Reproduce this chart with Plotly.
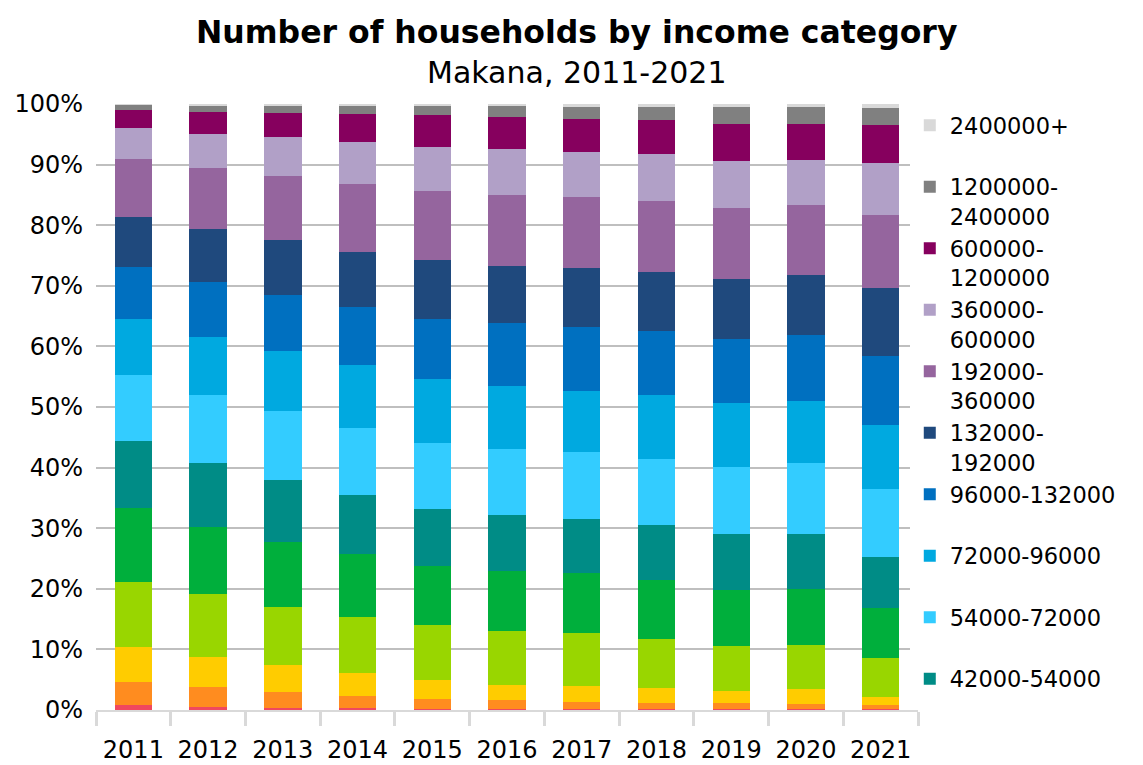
import plotly.graph_objects as go

years = ["2011", "2012", "2013", "2014", "2015", "2016", "2017", "2018", "2019", "2020", "2021"]

# income categories, bottom of the stack first
categories = [
    "0-2400", "2400-6000", "6000-12000", "12000-30000", "30000-42000",
    "42000-54000", "54000-72000", "72000-96000", "96000-132000",
    "132000-<br>192000", "192000-<br>360000", "360000-<br>600000",
    "600000-<br>1200000", "1200000-<br>2400000", "2400000+",
]

# share of households (%) per category
inc_0_2400 = [0.8, 0.5, 0.3, 0.4, 0.15, 0.1, 0.1, 0.1, 0.1, 0.1, 0.1]
inc_2400_6000 = [3.9, 3.3, 2.7, 1.9, 1.65, 1.5, 1.3, 1.1, 1.1, 0.9, 0.7]
inc_6000_12000 = [5.7, 5.0, 4.4, 3.8, 3.1, 2.6, 2.5, 2.4, 1.9, 2.4, 1.4]
inc_12000_30000 = [10.7, 10.3, 9.6, 9.3, 9.2, 8.9, 8.8, 8.1, 7.4, 7.3, 6.4]
inc_30000_42000 = [12.2, 11.1, 10.8, 10.3, 9.6, 9.9, 9.9, 9.7, 9.3, 9.2, 8.3]
inc_42000_54000 = [11.1, 10.5, 10.1, 9.8, 9.5, 9.1, 8.9, 9.2, 9.2, 9.1, 8.4]
inc_54000_72000 = [10.8, 11.3, 11.4, 11.1, 10.8, 11.0, 11.0, 10.8, 11.1, 11.7, 11.2]
inc_72000_96000 = [9.3, 9.6, 10.0, 10.3, 10.6, 10.4, 10.1, 10.5, 10.6, 10.3, 10.6]
inc_96000_132000 = [8.6, 9.1, 9.2, 9.6, 9.9, 10.3, 10.6, 10.6, 10.6, 10.9, 11.3]
inc_132000_192000 = [8.2, 8.7, 9.1, 9.1, 9.7, 9.5, 9.8, 9.8, 9.9, 9.9, 11.3]
inc_192000_360000 = [9.6, 10.0, 10.6, 11.2, 11.4, 11.7, 11.6, 11.7, 11.7, 11.5, 12.0]
inc_360000_600000 = [5.1, 5.7, 6.4, 6.9, 7.3, 7.5, 7.5, 7.7, 7.7, 7.5, 8.5]
inc_600000_1200000 = [3.0, 3.6, 3.9, 4.7, 5.3, 5.4, 5.5, 5.7, 6.1, 5.9, 6.4]
inc_1200000_2400000 = [0.9, 1.1, 1.3, 1.4, 1.5, 1.7, 1.9, 2.1, 2.8, 2.8, 2.7]
inc_2400000_plus = [0.1, 0.2, 0.2, 0.2, 0.3, 0.4, 0.5, 0.5, 0.5, 0.5, 0.7]

series = [
    inc_0_2400, inc_2400_6000, inc_6000_12000, inc_12000_30000, inc_30000_42000,
    inc_42000_54000, inc_54000_72000, inc_72000_96000, inc_96000_132000,
    inc_132000_192000, inc_192000_360000, inc_360000_600000,
    inc_600000_1200000, inc_1200000_2400000, inc_2400000_plus,
]

colors = [
    "#F0485E", "#FF8C1F", "#FFCC00", "#99D600", "#00AF3C",
    "#008C86", "#33CCFF", "#00A9E0", "#0070C0", "#1F497D",
    "#95659E", "#B1A0C7", "#86005E", "#808080", "#D9D9D9",
]

FONT = "DejaVu Sans"
FIRST_IN_LEGEND = 5

fig = go.Figure()
for i, (name, vals, col) in enumerate(zip(categories, series, colors)):
    # single-line labels get an empty second line so every legend slot is the same height
    label = name
    if "<br>" not in name and i > FIRST_IN_LEGEND:
        label = name + "<br> "
    fig.add_trace(
        go.Bar(
            x=years,
            y=vals,
            name=label,
            marker=dict(color=col, line=dict(width=0)),
            showlegend=i >= FIRST_IN_LEGEND,
        )
    )

# the page body adds an 8px offset, so margins are shifted by that amount
fig.update_layout(
    width=1143,
    height=765,
    barmode="stack",
    barnorm="percent",
    bargap=0.5,
    plot_bgcolor="white",
    paper_bgcolor="white",
    font=dict(family=FONT, size=24, color="black"),
    margin=dict(l=88, r=233, t=96, b=63, autoexpand=False),
    legend=dict(
        traceorder="reversed",
        x=0.99,
        xanchor="left",
        y=1.0,
        yanchor="top",
        valign="top",
        font=dict(size=22.5),
        tracegroupgap=0,
        itemwidth=30,
    ),
    annotations=[
        dict(
            text="<b>Number of households by income category</b>",
            xref="paper", yref="paper", x=0.585, y=1.1188,
            xanchor="center", yanchor="middle", showarrow=False,
            font=dict(size=31.5),
        ),
        dict(
            text="Makana, 2011-2021",
            xref="paper", yref="paper", x=0.585, y=1.0528,
            xanchor="center", yanchor="middle", showarrow=False,
            font=dict(size=30),
        ),
    ],
)

fig.update_yaxes(
    range=[0, 100],
    ticksuffix="%",
    dtick=10,
    showgrid=True,
    gridcolor="#BFBFBF",
    gridwidth=2,
    zeroline=False,
    showline=False,
    ticks="",
    ticklabelstandoff=12,
)
fig.update_xaxes(
    type="category",
    showline=True,
    linecolor="#D9D9D9",
    linewidth=2,
    ticks="outside",
    tickson="boundaries",
    ticklen=14,
    tickwidth=3,
    tickcolor="#D9D9D9",
    ticklabelstandoff=17,
)

fig.write_html("out.html")
